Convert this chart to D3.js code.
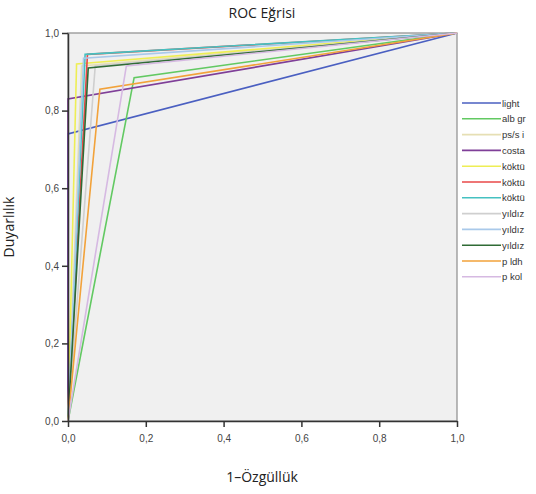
<!DOCTYPE html>
<html>
<head>
<meta charset="utf-8">
<script src="https://cdn.jsdelivr.net/npm/d3@7"></script>
<style>
  body { margin: 0; background: #fff; }
  svg { display: block; }
</style>
</head>
<body>
<svg width="536" height="494"></svg>
<script>
// seriler (tek kesim noktalı ROC eğrileri) - lejant adları resimdeki gibi kırpılmış
var seriesNames = ["light", "alb gr", "ps/s i", "costa", "köktü", "köktü", "köktü",
                   "yıldız", "yıldız", "yıldız", "p ldh", "p kol"];
var seriesColors = ["#4a5fc1", "#62c962", "#e6dfb4", "#7f3f98", "#eeee55", "#e84848", "#45c1c1",
                    "#cfcfcf", "#a9c9ea", "#2f6b35", "#f2a23a", "#d6b9e2"];
var fprValues = [0.0, 0.17, 0.035, 0.0, 0.022, 0.05, 0.044, 0.07, 0.04, 0.052, 0.082, 0.15];
var tprValues = [0.74, 0.885, 0.915, 0.83, 0.92, 0.945, 0.945, 0.915, 0.935, 0.91, 0.855, 0.915];
var tickValues = [0, 0.2, 0.4, 0.6, 0.8, 1.0];

var svg = d3.select("svg");
var x = d3.scaleLinear().domain([0, 1]).range([68, 457]);
var y = d3.scaleLinear().domain([0, 1]).range([421, 33]);
var fmt = function(d){ return d3.format(".1f")(d).replace(".", ","); };

// çizim alanı
svg.append("rect").attr("x", x(0)).attr("y", y(1))
   .attr("width", x(1) - x(0)).attr("height", y(0) - y(1))
   .attr("fill", "#f0f0f0").attr("stroke", "#8c8c8c").attr("stroke-width", 1.2);

var lineGen = d3.line().x(function(d){ return x(d[0]); }).y(function(d){ return y(d[1]); });
for (var i = 0; i < seriesNames.length; i++) {
  var pts = [[0, 0], [fprValues[i], tprValues[i]], [1, 1]];
  svg.append("path").attr("d", lineGen(pts))
     .attr("fill", "none").attr("stroke", seriesColors[i]).attr("stroke-width", 1.6);
}

// eksenler
var xAxis = svg.append("g").attr("transform", "translate(0," + y(0) + ")")
   .call(d3.axisBottom(x).tickValues(tickValues).tickFormat(fmt).tickSize(6).tickSizeOuter(0));
var yAxis = svg.append("g").attr("transform", "translate(" + x(0) + ",0)")
   .call(d3.axisLeft(y).tickValues(tickValues).tickFormat(fmt).tickSize(6).tickSizeOuter(0));
[xAxis, yAxis].forEach(function(g){
  g.selectAll("path").attr("stroke", "#333").attr("stroke-width", 1.5);
  g.selectAll("line").attr("stroke", "#333").attr("stroke-width", 1.5);
  g.selectAll("text").attr("fill", "#444").style("font-family", "Liberation Sans, Arial, sans-serif")
   .style("font-size", "10px");
});
xAxis.selectAll("text").attr("dy", "1.2em");

// başlıklar
svg.append("text").attr("x", 262).attr("y", 18).attr("text-anchor", "middle")
   .style("font-family", "Open Sans, sans-serif").style("font-size", "14px").attr("fill", "#222")
   .text("ROC Eğrisi");
svg.append("text").attr("x", 262).attr("y", 482).attr("text-anchor", "middle")
   .style("font-family", "Open Sans, sans-serif").style("font-size", "14px").attr("fill", "#222")
   .text("1–Özgüllük");
svg.append("text").attr("transform", "translate(14,227) rotate(-90)").attr("text-anchor", "middle")
   .style("font-family", "Open Sans, sans-serif").style("font-size", "14px").attr("fill", "#222")
   .text("Duyarlılık");

// lejant
var legend = svg.append("g");
for (var j = 0; j < seriesNames.length; j++) {
  var ly = 103 + j * 15.8;
  legend.append("line").attr("x1", 462).attr("x2", 501).attr("y1", ly).attr("y2", ly)
        .attr("stroke", seriesColors[j]).attr("stroke-width", 1.6);
  legend.append("text").attr("x", 502).attr("y", ly + 3.5)
        .style("font-family", "Liberation Sans, Arial, sans-serif").style("font-size", "9.5px")
        .attr("fill", "#333").text(seriesNames[j]);
}
</script>
</body>
</html>
